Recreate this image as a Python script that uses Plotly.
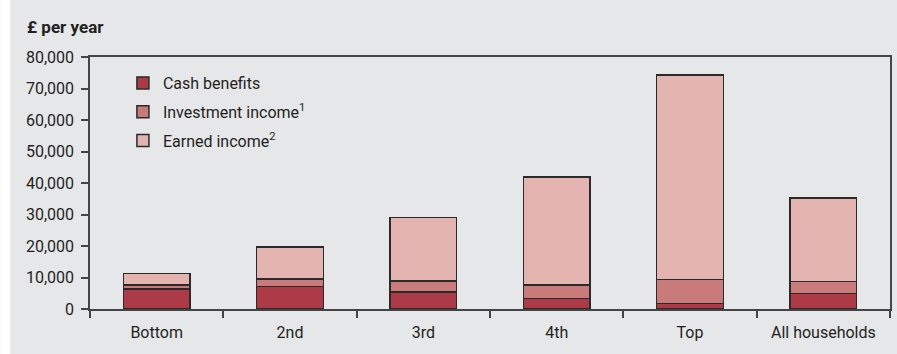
import plotly.graph_objects as go

categories = ["Bottom", "2nd", "3rd", "4th", "Top", "All households"]
cash_benefits = [6400, 7200, 5400, 3400, 1800, 4900]
investment_income = [1300, 2400, 3500, 4300, 7500, 3900]
earned_income = [3500, 10100, 20100, 34200, 65000, 26400]
tick_vals = [0, 10000, 20000, 30000, 40000, 50000, 60000, 70000, 80000]

FONT = "Roboto, sans-serif"
BG = "#e6e7e9"
LINE = "#2a2a2a"

fig = go.Figure()
series = [
    ("Cash benefits", cash_benefits, "#ac3a47", "g1"),
    ("Investment income<sup>1</sup>", investment_income, "#c97a7a", "g2"),
    ("Earned income<sup>2</sup>", earned_income, "#e3b4b0", "g3"),
]
for name, vals, color, grp in series:
    fig.add_trace(go.Bar(
        x=categories, y=vals, name=name, legendgroup=grp,
        marker=dict(color=color, line=dict(color=LINE, width=1.5)),
        width=0.5,
    ))

W, H = 897, 354
L, R, T, B = 90, 5, 57, 45
pw = W - L - R
ph = H - T - B

fig.update_layout(
    width=W, height=H,
    barmode="stack",
    paper_bgcolor=BG, plot_bgcolor=BG,
    margin=dict(l=L, r=R, t=T, b=B, pad=0),
    font=dict(family=FONT, size=16, color="#231f20"),
    showlegend=True,
    legend=dict(
        x=(123 - L) / pw, xanchor="left",
        y=1 - (66 - T) / ph, yanchor="top",
        bgcolor="rgba(0,0,0,0)",
        traceorder="grouped",
        tracegroupgap=5,
        font=dict(family=FONT, size=16, color="#231f20"),
    ),
    xaxis=dict(
        type="category",
        showline=True, linecolor="#444", linewidth=1.5, mirror=True,
        ticks="outside", ticklen=7, tickcolor="#444", tickwidth=1.5,
        tickson="boundaries",
        ticklabelstandoff=8,
        showgrid=False,
        tickfont=dict(family=FONT, size=16, color="#231f20"),
    ),
    yaxis=dict(
        range=[0, 80000],
        tickvals=tick_vals,
        tickformat=",d",
        showline=True, linecolor="#444", linewidth=1.5, mirror=True,
        ticks="outside", ticklen=7, tickcolor="#444", tickwidth=1.5,
        ticklabelstandoff=4,
        showgrid=False, zeroline=False,
        tickfont=dict(family=FONT, size=16, color="#231f20"),
    ),
    annotations=[dict(
        text="<b>£ per year</b>", xref="paper", yref="paper",
        x=(25 - L) / pw, y=1 + (T - 27) / ph,
        xanchor="left", yanchor="middle", showarrow=False,
        font=dict(family=FONT, size=17, color="#231f20"),
    )],
    shapes=[dict(
        type="rect", xref="paper", yref="paper",
        x0=(0 - L) / pw, x1=(10 - L) / pw, y0=-1, y1=2,
        fillcolor="white", line=dict(width=0), layer="below",
    )],
)

fig.write_html("out.html")
